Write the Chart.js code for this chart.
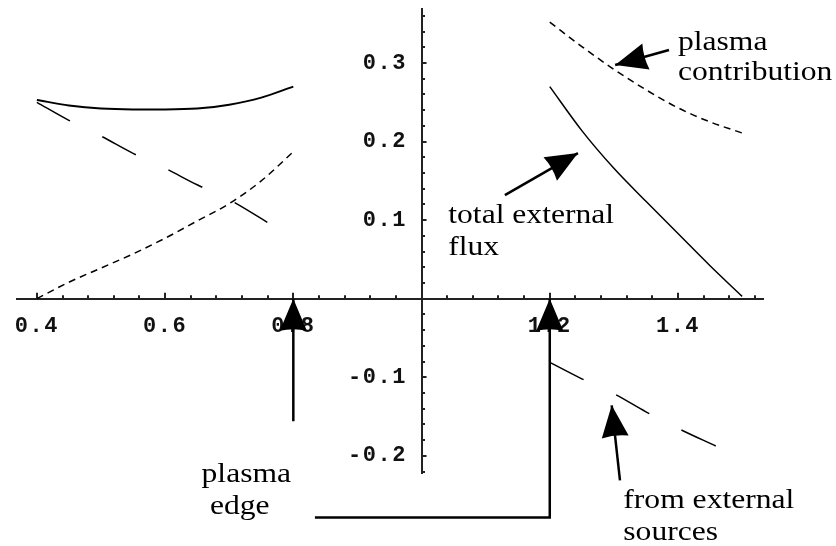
<!DOCTYPE html>
<html>
<head>
<meta charset="utf-8">
<title>Flux inside and outside the plasma</title>
<script src="https://cdn.jsdelivr.net/npm/chart.js@4.4.1/dist/chart.umd.min.js"></script>
<style>
  html, body { margin: 0; padding: 0; background: #fff; }
  canvas { display: block; }
</style>
</head>
<body>
<canvas id="fluxChart" width="836" height="546"></canvas>
<script>
// --- inside the plasma (x < 1) ---
const innerX = [0.40, 0.45, 0.50, 0.55, 0.60, 0.65, 0.70, 0.75, 0.80];
const innerTotal = [0.253, 0.246, 0.242, 0.241, 0.241, 0.242, 0.247, 0.256, 0.270];
const innerPlasma = [0.000, 0.021, 0.039, 0.057, 0.077, 0.099, 0.121, 0.150, 0.187];
const innerSourceX = [0.40, 0.45, 0.50, 0.55, 0.60, 0.65, 0.70, 0.76];
const innerSource = [0.250, 0.227, 0.207, 0.185, 0.166, 0.145, 0.126, 0.097];

// --- outside the plasma (x > 1) ---
const outerX = [1.20, 1.25, 1.30, 1.35, 1.40, 1.45, 1.50];
const outerTotal = [0.270, 0.214, 0.166, 0.124, 0.083, 0.042, 0.003];
const outerPlasma = [0.352, 0.321, 0.292, 0.266, 0.243, 0.225, 0.211];
const outerSourceX = [1.20, 1.25, 1.30, 1.35, 1.40, 1.46];
const outerSource = [-0.081, -0.102, -0.121, -0.144, -0.165, -0.188];

// labelled ticks (0 and 1 are left out where the axes cross)
const xTicks = [0.4, 0.6, 0.8, 1.2, 1.4];
const yTicks = [-0.2, -0.1, 0.1, 0.2, 0.3];

const INK = '#000';
const AXIS = '#222';
const tickFont = { family: '"Liberation Mono", monospace', size: 22, weight: 'bold' };

function pts(xs, ys) {
    return xs.map((x, i) => ({ x: x, y: ys[i] }));
}

function curve(xs, ys, dash, width) {
    return {
        data: pts(xs, ys),
        borderColor: INK,
        borderWidth: width,
        borderDash: dash,
        pointRadius: 0,
        fill: false,
        cubicInterpolationMode: 'monotone'
    };
}

// the axes cross at (1, 0), so drop the label padding chart.js reserves
function noPad(scale) {
    scale.paddingLeft = scale.paddingRight = scale.paddingTop = scale.paddingBottom = 0;
}

// wide typewriter look for the tick numbers
const tickSpacing = {
    id: 'tickSpacing',
    beforeDraw(chart) { chart.ctx.letterSpacing = '1.5px'; },
    beforeDatasetsDraw(chart) { chart.ctx.letterSpacing = '0px'; }
};

// major + minor tick marks, drawn on the inner side of each axis
const tickMarks = {
    id: 'tickMarks',
    beforeDatasetsDraw(chart) {
        const { ctx, scales: { x, y } } = chart;
        const x0 = x.getPixelForValue(1.0);
        const y0 = y.getPixelForValue(0);
        ctx.save();
        ctx.strokeStyle = AXIS;
        ctx.lineWidth = 2;
        ctx.beginPath();
        for (let i = 0; i <= 28; i++) {
            const px = Math.round(x.getPixelForValue(0.40 + i * 0.04));
            const len = i % 5 === 0 ? 6 : 3.5;
            ctx.moveTo(px, y0);
            ctx.lineTo(px, y0 - len);
        }
        for (let i = 0; i <= 29; i++) {
            const py = Math.round(y.getPixelForValue(-0.22 + i * 0.02));
            const len = (i - 1) % 5 === 0 ? 5 : 3.5;
            ctx.moveTo(x0, py);
            ctx.lineTo(x0 + len, py);
        }
        ctx.stroke();
        ctx.restore();
    }
};

// labels and arrows, placed in data coordinates
const notes = [
    { text: 'plasma', x: 1.400, y: 0.3166 },
    { text: 'contribution', x: 1.400, y: 0.2783 },
    { text: 'total external', x: 1.0417, y: 0.0966 },
    { text: 'flux', x: 1.0417, y: 0.0554 },
    { text: 'from external', x: 1.3147, y: -0.2665 },
    { text: 'sources', x: 1.3147, y: -0.3068 },
    { text: 'plasma', x: 0.6569, y: -0.2334 },
    { text: 'edge', x: 0.6699, y: -0.2736 }
];

const arrows = [
    [[1.386, 0.3166], [1.302, 0.2975]],
    [[1.130, 0.1318], [1.244, 0.1854]],
    [[1.3095, -0.2312], [1.2966, -0.1357]],
    [[0.800, -0.156], [0.800, 0]],
    [[0.8337, -0.2787], [1.200, -0.2787], [1.200, 0]]
];

function arrowHead(ctx, fromX, fromY, tipX, tipY) {
    const ang = Math.atan2(tipY - fromY, tipX - fromX);
    ctx.save();
    ctx.translate(tipX, tipY);
    ctx.rotate(ang);
    ctx.beginPath();
    ctx.moveTo(0, 0);
    ctx.lineTo(-32, -13.5);
    ctx.quadraticCurveTo(-29, 0, -32, 13.5);
    ctx.closePath();
    ctx.fill();
    ctx.restore();
}

const annotations = {
    id: 'annotations',
    afterDraw(chart) {
        const { ctx, scales: { x, y } } = chart;
        ctx.save();
        ctx.fillStyle = INK;
        ctx.strokeStyle = INK;
        ctx.font = '27px "Liberation Serif", "Times New Roman", serif';
        ctx.textAlign = 'left';
        ctx.textBaseline = 'alphabetic';
        notes.forEach(n => {
            ctx.save();
            ctx.translate(x.getPixelForValue(n.x), y.getPixelForValue(n.y));
            ctx.scale(1.17, 1);
            ctx.fillText(n.text, 0, 0);
            ctx.restore();
        });

        ctx.lineWidth = 2.5;
        ctx.lineJoin = 'miter';
        arrows.forEach(path => {
            const p = path.map(([vx, vy]) => [x.getPixelForValue(vx), y.getPixelForValue(vy)]);
            ctx.beginPath();
            ctx.moveTo(p[0][0], p[0][1]);
            for (let i = 1; i < p.length; i++) ctx.lineTo(p[i][0], p[i][1]);
            ctx.stroke();
            const a = p[p.length - 2], b = p[p.length - 1];
            arrowHead(ctx, a[0], a[1], b[0], b[1]);
        });
        ctx.restore();
    }
};

new Chart(document.getElementById('fluxChart'), {
    type: 'line',
    data: {
        datasets: [
            curve(innerX, innerTotal, [], 2),
            curve(innerX, innerPlasma, [7, 5], 1.5),
            curve(innerSourceX, innerSource, [38, 36], 1.5),
            curve(outerX, outerTotal, [], 1.5),
            curve(outerX, outerPlasma, [7, 5], 1.5),
            curve(outerSourceX, outerSource, [38, 36], 1.5)
        ]
    },
    options: {
        responsive: false,
        animation: false,
        layout: { padding: { left: 17, right: 73, top: 9, bottom: 73 } },
        plugins: {
            legend: { display: false },
            tooltip: { enabled: false }
        },
        scales: {
            x: {
                type: 'linear',
                min: 0.369,
                max: 1.5326,
                position: { y: 0 },
                afterBuildTicks: s => { s.ticks = xTicks.map(v => ({ value: v })); },
                afterFit: noPad,
                grid: { display: true, drawOnChartArea: false, drawTicks: false },
                border: { display: true, color: AXIS, width: 2 },
                ticks: {
                    font: tickFont, color: '#111', padding: 15,
                    autoSkip: false, maxRotation: 0,
                    callback: v => v.toFixed(1)
                }
            },
            y: {
                type: 'linear',
                min: -0.2219,
                max: 0.3688,
                position: { x: 1.0 },
                afterBuildTicks: s => { s.ticks = yTicks.map(v => ({ value: v })); },
                afterFit: noPad,
                grid: { display: true, drawOnChartArea: false, drawTicks: false },
                border: { display: true, color: AXIS, width: 2 },
                ticks: {
                    font: tickFont, color: '#111',
                    autoSkip: false,
                    // a centred y axis gets no label padding, so keep one blank column
                    callback: v => v.toFixed(1) + ' '
                }
            }
        }
    },
    plugins: [tickSpacing, tickMarks, annotations]
});
</script>
</body>
</html>
